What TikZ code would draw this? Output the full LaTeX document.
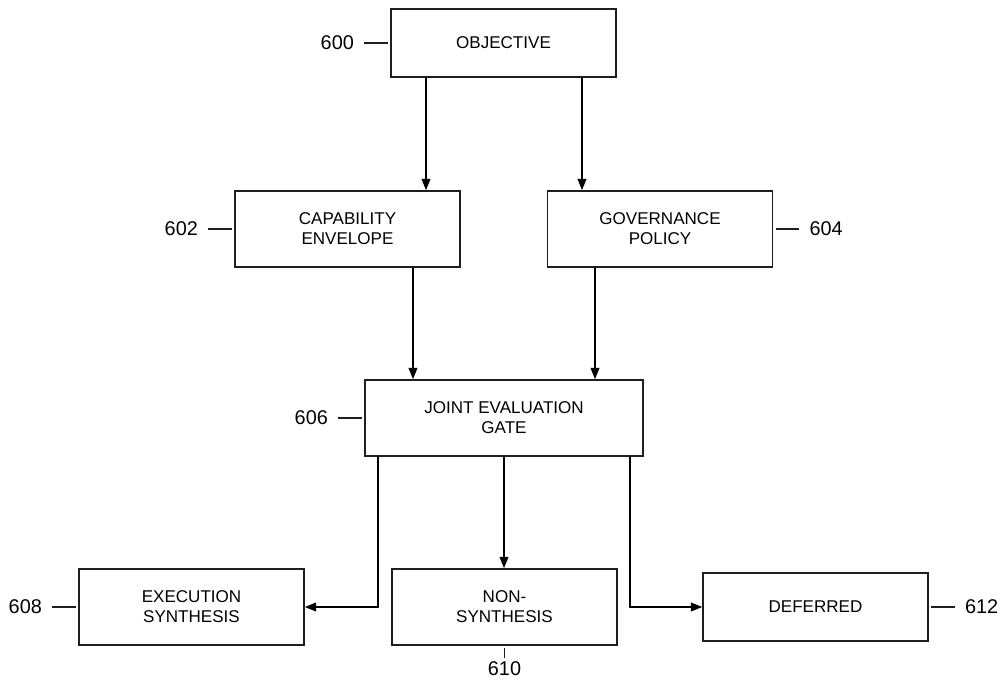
\documentclass[tikz,border=0pt]{standalone}
\usepackage{fontspec}
\setmainfont{Liberation Sans}
\usepackage{tikz}
\usetikzlibrary{arrows.meta, positioning, calc}
\definecolor{inkgray}{RGB}{30, 30, 30}
\tikzset{
  boxnode/.style={draw=inkgray, line width=0.9pt, minimum width=4.5cm, minimum height=1.52cm, align=center, inner sep=2pt, font=\fontsize{9.7}{11.5}\selectfont, text=black},
  refnum/.style={inner sep=0pt, font=\fontsize{11.3}{13}\selectfont, text=black},
  leadline/.style={line width=0.9pt, inkgray, shorten <=0.2cm, shorten >=0.05cm},
  flowarrow/.style={-{Triangle[length=6.5pt, width=5pt]}, line width=0.9pt, black},
}

\begin{document}
\begin{tikzpicture}
  \useasboundingbox (0,0) rectangle (20.16,-13.66);
  \node[boxnode, minimum height=1.36cm] (obj) at (10.07,-0.86) {OBJECTIVE};
  \node[boxnode] (cap) at (6.95,-4.58) {CAPABILITY\\ENVELOPE};
  \node[boxnode] (gov) at (13.2,-4.58) {GOVERNANCE\\POLICY};
  \node[boxnode, minimum width=5.56cm] (gate) at (10.08,-8.36) {JOINT EVALUATION\\GATE};
  \node[boxnode] (exe) at (3.83,-12.14) {EXECUTION\\SYNTHESIS};
  \node[boxnode] (non) at (10.09,-12.14) {NON-\\SYNTHESIS};
  \node[boxnode, minimum height=1.36cm] (def) at (16.31,-12.14) {DEFERRED};

  \node[refnum, left=0.72cm of obj] (r600) {600};
  \node[refnum, left=0.72cm of cap] (r602) {602};
  \node[refnum, right=0.72cm of gov] (r604) {604};
  \node[refnum, left=0.72cm of gate] (r606) {606};
  \node[refnum, left=0.72cm of exe] (r608) {608};
  \node[refnum, below=0.3cm of non] (r610) {610};
  \node[refnum, right=0.72cm of def] (r612) {612};

  \draw[leadline] (r600.east) -- (obj.west);
  \draw[leadline] (r602.east) -- (cap.west);
  \draw[leadline] (r604.west) -- (gov.east);
  \draw[leadline] (r606.east) -- (gate.west);
  \draw[leadline] (r608.east) -- (exe.west);
  \draw[leadline, shorten <=0.06cm, shorten >=0.04cm] (r610.north) -- (non.south);
  \draw[leadline] (r612.west) -- (def.east);

  \coordinate (o1) at ([xshift=-1.55cm]obj.south);
  \coordinate (o2) at ([xshift=1.57cm]obj.south);
  \coordinate (c1) at ([xshift=1.31cm]cap.south);
  \coordinate (p1) at ([xshift=-1.3cm]gov.south);
  \coordinate (g1) at ([xshift=-2.52cm]gate.south);
  \coordinate (g3) at ([xshift=2.52cm]gate.south);

  \draw[flowarrow] (o1) -- (o1 |- cap.north);
  \draw[flowarrow] (o2) -- (o2 |- gov.north);
  \draw[flowarrow] (c1) -- (c1 |- gate.north);
  \draw[flowarrow] (p1) -- (p1 |- gate.north);
  \draw[flowarrow] (g1) |- (exe.east);
  \draw[flowarrow] (gate.south) -- (gate.south |- non.north);
  \draw[flowarrow] (g3) |- (def.west);
\end{tikzpicture}
\end{document}
